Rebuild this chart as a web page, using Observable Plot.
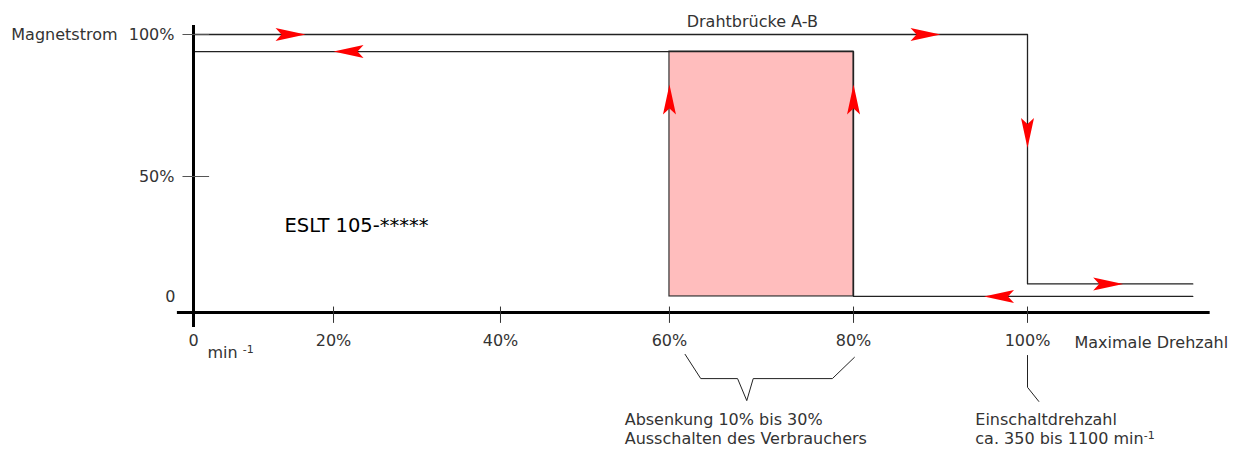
<!DOCTYPE html>
<html>
<head>
<meta charset="utf-8">
<script src="https://cdn.jsdelivr.net/npm/d3@7"></script>
<script src="https://cdn.jsdelivr.net/npm/@observablehq/plot@0.6"></script>
<style>
html, body { margin: 0; padding: 0; background: #fff; }
</style>
</head>
<body>
<div id="chart"></div>
<script>
// ---------- data ----------
const xTicks = [0, 20, 40, 60, 80, 100];
const xTickLabels = ["0", "20%", "40%", "60%", "80%", "100%"];
// the hand-drawn x axis is not evenly spaced: where each tick sits along the axis (% of its length)
const xTickPlace = [0, 16.79, 36.81, 57.07, 79.14, 100];
const yTicks = [0, 50, 100];
const yTickPlace = [0, 48.92, 100];
const yTickLabels = ["50%", "100%"];

const levelHigh = 100;    // Drahtbrücke A-B (rising speed)
const levelHold = 94;     // falling branch
const levelLowOn = 10.5;  // after switch-off, above max speed
const levelLowOff = 5.9;  // "0" level
const xEnd = 119;

const risingX = [0, 100, 100, xEnd];
const risingY = [levelHigh, levelHigh, levelLowOn, levelLowOn];
const fallingX = [xEnd, 80, 80, 0];
const fallingY = [levelLowOff, levelLowOff, levelHold, levelHold];
const bandX = [60, 80];   // Absenkung band

// arrows: tip position and direction
const arrowX = [16, 20, 90, 100, 111, 95, 60, 80];
const arrowY = [100, 94, 100, 60, 10.5, 5.9, 82.4, 82.4];
const arrowDir = ["right", "left", "right", "down", "right", "left", "up", "up"];

// ---------- tables ----------
const rising = risingX.map((x, i) => ({x, y: risingY[i]}));
const falling = fallingX.map((x, i) => ({x, y: fallingY[i]}));
const arrows = arrowX.map((x, i) => ({x, y: arrowY[i], dir: arrowDir[i]}));
const xTickTable = xTicks.map((v, i) => ({v, label: xTickLabels[i]}));
const yTickTable = yTicks.slice(1).map((v, i) => ({v, label: yTickLabels[i]}));

// bracket under the band
const [bLo, bHi] = bandX;
const bMid = bLo + 8.4;
const bracket = [
  {x: bLo + 1.7, y: -15.4}, {x: bLo + 3.4, y: -24.3}, {x: bMid - 1, y: -24.3},
  {x: bMid, y: -32.4}, {x: bMid + 0.7, y: -24.3}, {x: bHi - 2.3, y: -24.3}, {x: bHi + 0.1, y: -16.5}
];
const leader = [{x: 100, y: -15.8}, {x: 100, y: -27.5}, {x: 101.3, y: -32.7}];

// ---------- arrow symbols (tip at origin) ----------
const L = 30, H = 6.5, N = 24;
function arrowSymbol(dir) {
  const pts = {
    right: [[0, 0], [-L, -H], [-N, 0], [-L, H]],
    left:  [[0, 0], [L, -H], [N, 0], [L, H]],
    down:  [[0, 0], [-H, -L], [0, -N], [H, -L]],
    up:    [[0, 0], [-H, L], [0, N], [H, L]]
  }[dir];
  return {draw(ctx) {
    ctx.moveTo(pts[0][0], pts[0][1]);
    for (let k = 1; k < pts.length; k++) ctx.lineTo(pts[k][0], pts[k][1]);
    ctx.closePath();
  }};
}
const arrowMarks = ["right", "left", "down", "up"].map(dir =>
  Plot.dot(arrows.filter(a => a.dir === dir), {
    x: "x", y: "y", symbol: arrowSymbol(dir), fill: "#ff0000", stroke: "none", r: 5
  })
);

const xPlace = d3.scaleLinear().domain(xTicks).range(xTickPlace);
const yPlace = d3.scaleLinear().domain(yTicks).range(yTickPlace);

const chart = Plot.plot({
  width: 1242,
  height: 452,
  marginLeft: 193,
  marginRight: 1242 - 1027,
  marginTop: 34,
  marginBottom: 452 - 312,
  style: {fontFamily: "DejaVu Sans", fontSize: "16px", color: "#333", background: "#fff", overflow: "visible"},
  x: {type: "linear", transform: xPlace, domain: [0, 100], axis: null},
  y: {type: "linear", transform: yPlace, domain: [0, 100], axis: null},
  marks: [
    Plot.rect([{x1: bandX[0], x2: bandX[1], y1: levelLowOff, y2: levelHold}],
      {x1: "x1", x2: "x2", y1: "y1", y2: "y2", fill: "#ffbdbd", stroke: "#333", strokeWidth: 1.2}),
    Plot.line(rising, {x: "x", y: "y", stroke: "#222", strokeWidth: 1.3}),
    Plot.line(falling, {x: "x", y: "y", stroke: "#222", strokeWidth: 1.3}),
    // axes
    Plot.ruleX([0], {y1: -5.5, y2: 103.2, stroke: "#000", strokeWidth: 3}),
    Plot.ruleY([0], {x1: -2.3, x2: 121, stroke: "#000", strokeWidth: 3}),
    Plot.ruleX(xTicks.slice(1), {x: d => d, y1: -4, y2: 2, stroke: "#333", strokeWidth: 1}),
    Plot.ruleY(yTicks.slice(1), {y: d => d, x1: -1.5, x2: 2.3, stroke: "#555", strokeWidth: 1}),
    // tick labels
    Plot.text(xTickTable, {x: "v", y: 0, dy: 28, text: "label"}),
    Plot.text(yTickTable, {x: 0, y: "v", dx: -19, text: "label", textAnchor: "end"}),
    Plot.text(["Magnetstrom"], {x: 0, y: 100, dx: -76, text: d => d, textAnchor: "end"}),
    Plot.text(["0"], {x: 0, y: levelLowOff, dx: -18, text: d => d, textAnchor: "end"}),
    Plot.text(["min -1"], {x: 0, y: 0, dx: 14, dy: 40, text: d => d, textAnchor: "start"}),
    Plot.text(["Maximale Drehzahl"], {x: 100, y: 0, dx: 47, dy: 30, text: d => d, textAnchor: "start"}),
    Plot.text(["Drahtbrücke A-B"], {x: 69, y: levelHigh, dy: -13, text: d => d}),
    Plot.text(["ESLT 105-*****"], {x: 13, y: 32, text: d => d, textAnchor: "start", fontSize: 19.5, fill: "#000"}),
    // annotations
    Plot.line(bracket, {x: "x", y: "y", stroke: "#222", strokeWidth: 1}),
    Plot.line(leader, {x: "x", y: "y", stroke: "#222", strokeWidth: 1}),
    Plot.text(["Absenkung 10% bis 30%\nAusschalten des Verbrauchers"],
      {x: 54.7, y: -42.5, text: d => d, textAnchor: "start", lineHeight: 1.19}),
    Plot.text(["Einschaltdrehzahl\nca. 350 bis 1100 min-1"],
      {x: 94, y: -42.5, text: d => d, textAnchor: "start", lineHeight: 1.19}),
    ...arrowMarks
  ]
});

// superscript "-1"
d3.select(chart).selectAll("text, tspan").each(function () {
  if (this.children.length) return;
  const t = this.textContent;
  const m = t.match(/^(.*min\s?)-1$/);
  if (m) {
    this.textContent = m[1];
    d3.select(this).append("tspan").attr("dy", "-0.45em").attr("font-size", "11px").text("-1");
  }
});

document.getElementById("chart").appendChild(chart);
</script>
</body>
</html>
